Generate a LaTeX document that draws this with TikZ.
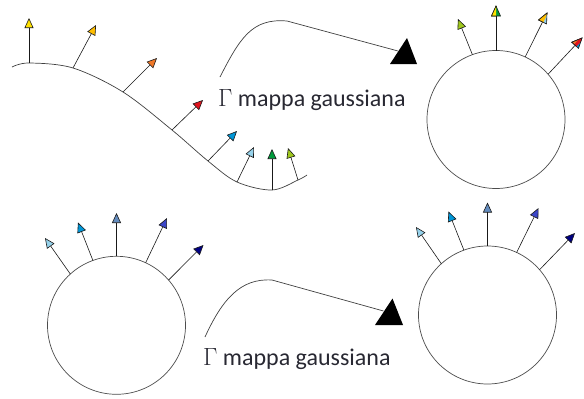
\documentclass[tikz,border=0pt]{standalone}
\usepackage{fontspec}
\setmainfont{Carlito}
\usetikzlibrary{arrows.meta}
\definecolor{cYellow}{RGB}{255,225,0}
\definecolor{cGold}{RGB}{255,190,0}
\definecolor{cOrange}{RGB}{240,120,40}
\definecolor{cRed}{RGB}{225,20,30}
\definecolor{cSky}{RGB}{0,150,215}
\definecolor{cLight}{RGB}{150,210,235}
\definecolor{cGreen}{RGB}{0,155,60}
\definecolor{cLime}{RGB}{160,200,30}
\definecolor{cSteel}{RGB}{100,140,190}
\definecolor{cRoyal}{RGB}{60,70,200}
\definecolor{cNavy}{RGB}{0,0,130}
\definecolor{txt}{RGB}{40,40,50}
\begin{document}
\begin{tikzpicture}[x=1pt,y=-1pt,
  shaft/.style={line width=0.6pt, draw=black!90},
  tipc/.style={-{Triangle[length=10pt,width=9pt,fill=#1,line join=miter]}},
  headtri/.style={fill=#1, draw=black!90, line width=0.6pt, line join=miter},
  sphere/.style={circle, draw=black!70, line width=0.7pt, minimum size=138pt, inner sep=0pt, outer sep=0pt},
  conn/.style={draw=black!75, line width=0.7pt},
  lbl/.style={anchor=base west, inner sep=0pt, text=txt, font=\fontsize{24}{28}\selectfont},
  blacktri/.style={fill=black}]
\useasboundingbox (0,0) rectangle (584,399);

% ---- top-left curve ----
\coordinate (p1) at (29,63);
\coordinate (p2) at (73,68);
\coordinate (p3) at (123,92);
\coordinate (p4) at (172,130);
\coordinate (p5) at (208,161);
\coordinate (p6) at (237,182);
\coordinate (p7) at (272,190);
\coordinate (p8) at (298,180);
\draw[conn] plot[smooth, tension=0.55] coordinates {(12,67) (p1) (p2) (p3) (p4) (p5) (p6) (p7) (p8) (307,175)};
\draw[shaft, tipc=cYellow] (p1) -- (29,18);
\draw[shaft, tipc=cGold] (p2) -- (96,25);
\draw[shaft, tipc=cOrange] (p3) -- (157,58);
\draw[shaft, tipc=cRed] (p4) -- (203,100);
\draw[shaft, tipc=cSky] (p5) -- (237,131);
\draw[shaft, tipc=cLight] (p6) -- (254,147);
\draw[shaft, tipc=cGreen] (p7) -- (272,149);
\draw[shaft, tipc=cLime] (p8) -- (288,148);

% ---- top connector ----
\coordinate (s1) at (220,77);
\coordinate (k1) at (287,21);
\coordinate (t1) at (398,51);
\draw[conn] (s1) .. controls (240,38) and (252,18) .. (k1) -- (t1);
\fill[blacktri] (390,64) -- (407,38) -- (417,64) -- cycle;
\node[lbl] (g1) at (218,106) {$\Gamma$ mappa gaussiana};

% ---- top-right sphere ----
\node[sphere] (c1) at (496,119.5) {};
\draw[shaft, tipc=cLime] (c1.110) -- (458,19);
\draw[shaft] (c1.90) -- (496,6);
\begin{scope}[shift={(496,6)}, rotate=90]
  \filldraw[headtri=cGreen] (0,0) -- (-10,4.5) -- (-10,-4.5) -- cycle;
  \begin{scope}
    \clip (-15,-15) rectangle (5,0);
    \filldraw[headtri=cYellow] (0,0) -- (-10,4.5) -- (-10,-4.5) -- cycle;
  \end{scope}
\end{scope}
\draw[shaft] (c1.65) -- (547,13);
\begin{scope}[shift={(547,13)}, rotate=63.6]
  \filldraw[headtri=cLight] (0,0) -- (-10,4.5) -- (-10,-4.5) -- cycle;
  \begin{scope}
    \clip (-15,-15) rectangle (5,0.8);
    \filldraw[headtri=cGold] (0,0) -- (-10,4.5) -- (-10,-4.5) -- cycle;
  \end{scope}
\end{scope}
\draw[shaft] (c1.41) -- (582,38);
\begin{scope}[shift={(582,38)}, rotate=47]
  \filldraw[headtri=cSky] (0,0) -- (-10,4.5) -- (-10,-4.5) -- cycle;
  \begin{scope}
    \clip (-15,-15) rectangle (5,1.8);
    \filldraw[headtri=cRed] (0,0) -- (-10,4.5) -- (-10,-4.5) -- cycle;
  \end{scope}
  \begin{scope}
    \clip (-15,-15) rectangle (5,-1.5);
    \filldraw[headtri=cOrange] (0,0) -- (-10,4.5) -- (-10,-4.5) -- cycle;
  \end{scope}
\end{scope}

% ---- bottom-left sphere ----
\node[sphere] (c2) at (116.5,325.3) {};
\draw[shaft, tipc=cLight] (c2.132) -- (45,238);
\draw[shaft, tipc=cSky] (c2.110) -- (78,222.5);
\draw[shaft, tipc=cSteel] (c2.90) -- (116.5,213);
\draw[shaft, tipc=cRoyal] (c2.65) -- (167,218);
\draw[shaft, tipc=cNavy] (c2.41) -- (203.5,245);

% ---- bottom connector ----
\coordinate (s2) at (205,337);
\coordinate (k2) at (272,280);
\coordinate (t2) at (383.5,311);
\draw[conn] (s2) .. controls (222,300) and (240,278) .. (k2) -- (t2);
\fill[blacktri] (375,325) -- (392.5,298.5) -- (403,325) -- cycle;
\node[lbl] (g2) at (203,365) {$\Gamma$ mappa gaussiana};

% ---- bottom-right sphere ----
\node[sphere] (c3) at (487.5,315) {};
\draw[shaft, tipc=cLight] (c3.132) -- (416,227);
\draw[shaft, tipc=cSky] (c3.110) -- (448.5,211.5);
\draw[shaft, tipc=cSteel] (c3.90) -- (487.5,202.5);
\draw[shaft, tipc=cRoyal] (c3.65) -- (538.5,208);
\draw[shaft, tipc=cNavy] (c3.41) -- (575,233);
\end{tikzpicture}
\end{document}
